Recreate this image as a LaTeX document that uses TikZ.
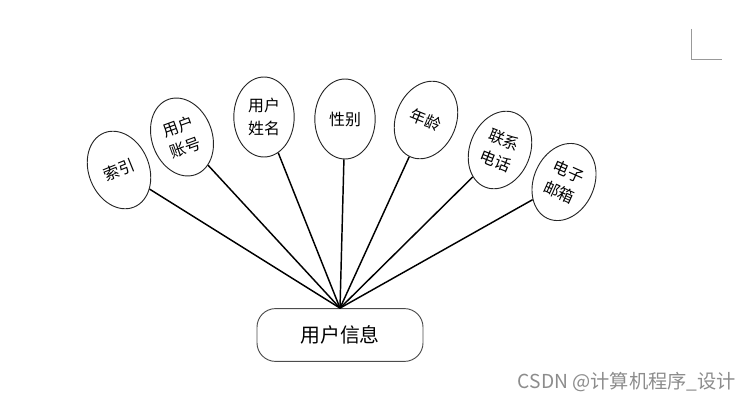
\documentclass[tikz,border=0pt]{standalone}
\usepackage{fontspec}
\setmainfont{Noto Sans CJK SC}
\usetikzlibrary{shapes.geometric}

\begin{document}
\begin{tikzpicture}[x=0.0265cm,y=-0.0265cm,
  attr/.style={ellipse,draw=black!85,line width=0.7pt,minimum width=1.6cm,minimum height=2.12cm,inner sep=0pt,align=center,font=\fontsize{12}{17}\selectfont},
  entity/.style={rounded corners=14pt,draw=black!70,line width=0.7pt,minimum width=4.4cm,minimum height=1.4cm,font=\fontsize{15}{17}\selectfont},
  link/.style={line width=1.1pt,black}]
\useasboundingbox (0,0) rectangle (754,401);

% the entity
\node[entity] (info) at (340,335) {用户信息};

% attributes, left to right
\node[attr,rotate=22] (suoyin) at (119,170) {索引};
\node[attr,rotate=20] (zhanghao) at (182,137) {用户\\账号};
\node[attr] (xingming) at (264,117) {用户\\姓名};
\node[attr] (xingbie) at (345,119) {性别};
\node[attr,rotate=-22] (nianling) at (426,120) {年龄};
\node[attr,rotate=-22] (dianhua) at (500,150) {联系\\电话};
\node[attr,rotate=-24] (youxiang) at (564,182) {电子\\邮箱};

% links to the entity
\foreach \a in {suoyin,zhanghao,xingming,xingbie,nianling,dianhua,youxiang}
  \draw[link] (\a) -- (info.north);

% page corner mark
\coordinate (ctop) at (691,29);
\coordinate (cbend) at (691,59);
\coordinate (cright) at (722,59);
\draw[black!40] (ctop) -- (cbend) -- (cright);

% watermark
\node[text=black!45,font=\fontsize{14.5}{16}\selectfont] (mark) at (627,382) {CSDN @计算机程序\_设计};

\end{tikzpicture}
\end{document}
